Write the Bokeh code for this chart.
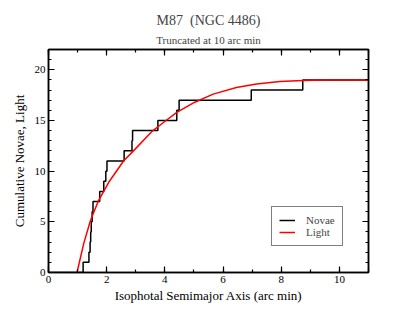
import numpy as np
from bokeh.plotting import figure
from bokeh.models import (Range1d, LinearAxis, SingleIntervalTicker, Title, Legend, LegendItem)
from bokeh.embed import file_html
from bokeh.resources import INLINE

# Nova semimajor-axis radii (arc min)
nova_radii = [1.19, 1.39, 1.43, 1.45, 1.47, 1.50, 1.53, 1.76, 1.90, 1.97, 2.01,
              2.60, 2.87, 2.89, 3.76, 4.41, 4.49, 6.97, 8.74]
x_max = 11.0

# Cumulative light curve (scaled)
light_x = [0.98, 1.21, 1.44, 1.72, 2.07, 2.58, 2.92, 3.57, 3.95, 4.41, 5.03,
           5.66, 6.46, 7.15, 7.95, 8.74, 9.5, 11.0]
light_y = [0.0, 2.85, 5.1, 7.1, 8.9, 11.0, 12.0, 13.95, 14.8, 15.8, 16.8,
           17.6, 18.26, 18.6, 18.85, 18.95, 19.0, 19.0]

title_text = "M87\u00a0 (NGC 4486)"
subtitle_text = "Truncated at 10 arc min"
x_label = "Isophotal Semimajor Axis (arc min)"
y_label = "Cumulative Novae, Light"

FONT = "Liberation Serif"

step_x = [0.0] + nova_radii + [x_max]
step_y = list(range(0, len(nova_radii) + 1)) + [len(nova_radii)]

p = figure(width=407, height=313, output_backend="svg", toolbar_location=None,
           x_range=Range1d(0, 11), y_range=Range1d(0, 22),
           min_border_left=48, min_border_right=39, min_border_top=49, min_border_bottom=41,
           title=None)
p.background_fill_color = "white"
p.border_fill_color = "white"
p.xgrid.visible = False
p.ygrid.visible = False
p.outline_line_color = "black"
p.outline_line_width = 1.5

r_novae = p.step(step_x, step_y, mode="after", line_color="black", line_width=1.5)
r_light = p.line(light_x, light_y, line_color="red", line_width=1.5)

def style_axis(ax, show_labels):
    ax.axis_line_color = "black"
    ax.axis_line_width = 1.5
    ax.major_tick_in = 6
    ax.major_tick_out = 0
    ax.minor_tick_in = 3
    ax.minor_tick_out = 0
    ax.major_tick_line_width = 1.2
    ax.minor_tick_line_width = 1.2
    ax.major_tick_line_color = "black"
    ax.minor_tick_line_color = "black"
    ax.major_label_text_font = FONT
    ax.axis_label_text_font = FONT
    ax.axis_label_text_font_style = "normal"
    ax.axis_label_text_color = "black"
    ax.major_label_text_color = "black"
    if show_labels:
        ax.major_label_text_font_size = "11px"
        ax.major_label_standoff = 3
        ax.axis_label_text_font_size = "13px"
        ax.axis_label_standoff = 2
    else:
        ax.major_label_text_font_size = "0px"
        ax.major_label_standoff = 0
        ax.major_label_text_alpha = 0

xt = SingleIntervalTicker(interval=2, num_minor_ticks=2)
yt = SingleIntervalTicker(interval=5, num_minor_ticks=5)

p.xaxis.ticker = xt
p.yaxis.ticker = yt
style_axis(p.xaxis[0], True)
style_axis(p.yaxis[0], True)
p.xaxis.axis_label = x_label
p.yaxis.axis_label = y_label
p.yaxis.axis_label_standoff = 5

top = LinearAxis(ticker=SingleIntervalTicker(interval=2, num_minor_ticks=2))
right = LinearAxis(ticker=SingleIntervalTicker(interval=5, num_minor_ticks=5))
style_axis(top, False)
style_axis(right, False)
p.add_layout(top, "above")
p.add_layout(right, "right")

p.add_layout(Title(text=subtitle_text, text_font=FONT, text_font_size="11px",
                   text_font_style="normal", align="center", standoff=8), "above")
p.add_layout(Title(text=title_text, text_font=FONT, text_font_size="14px",
                   text_font_style="normal", align="center", standoff=0,
                   text_line_height=0.85), "above")

legend = Legend(items=[LegendItem(label="Novae", renderers=[r_novae]),
                       LegendItem(label="Light", renderers=[r_light])],
                location=(223, 26))
legend.label_text_font = FONT
legend.label_text_font_size = "11px"
legend.label_height = 12
legend.glyph_height = 12
legend.glyph_width = 16
legend.label_standoff = 11
legend.padding = 7
legend.spacing = 0
legend.margin = 0
legend.border_line_color = "black"
legend.border_line_width = 1.5
legend.background_fill_alpha = 1
p.add_layout(legend, "center")

open("out.html", "w").write(file_html(p, INLINE))
